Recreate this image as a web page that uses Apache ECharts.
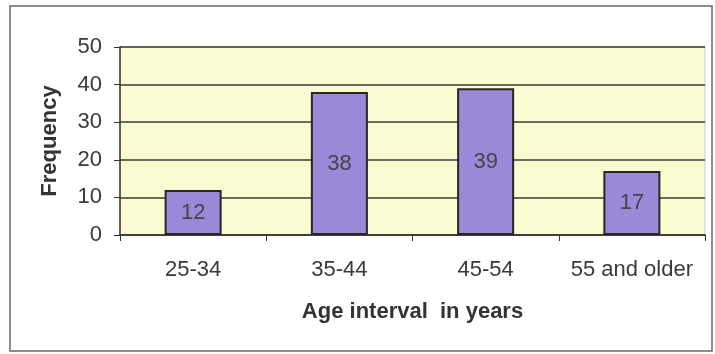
<!DOCTYPE html>
<html>
<head>
<meta charset="utf-8">
<script src="https://cdn.jsdelivr.net/npm/echarts@6/dist/echarts.min.js"></script>
<style>
  html, body { margin: 0; padding: 0; background: #ffffff; }
  #chart { width: 715px; height: 354px; }
</style>
</head>
<body>
<div id="chart"></div>
<script>
// Age groups and how many respondents fall in each
var ageGroups = ['25-34', '35-44', '45-54', '55 and older'];
var frequencies = [12, 38, 39, 17];
var yTicks = [0, 10, 20, 30, 40, 50];

var chart = echarts.init(document.getElementById('chart'));

chart.setOption({
  backgroundColor: '#ffffff',
  animation: false,
  textStyle: { fontFamily: 'Liberation Sans, Arial, sans-serif' },
  graphic: [{
    type: 'rect',
    shape: { x: 10, y: 6, width: 702, height: 345 },
    style: { fill: 'none', stroke: '#6a6a6a', lineWidth: 1.5 },
    silent: true,
    z: -1
  }],
  grid: {
    left: 120, right: 10, top: 47, bottom: 119,
    show: true,
    backgroundColor: '#fbfbd2',
    borderColor: '#c8c8c8',
    borderWidth: 1
  },
  xAxis: {
    type: 'category',
    data: ageGroups,
    name: 'Age interval  in years',
    nameLocation: 'middle',
    nameGap: 66,
    nameTextStyle: { fontSize: 22, fontWeight: 'bold', color: '#333' },
    axisLine: { lineStyle: { color: '#333', width: 1.5 } },
    axisTick: { show: true, length: 6, inside: false, lineStyle: { color: '#333' } },
    axisLabel: { interval: 0, hideOverlap: false, fontSize: 22, color: '#3a3a3a', margin: 24 }
  },
  yAxis: {
    type: 'value',
    min: yTicks[0],
    max: yTicks[yTicks.length - 1],
    interval: 10,
    name: 'Frequency',
    nameLocation: 'middle',
    nameGap: 59,
    nameTextStyle: { fontSize: 22, fontWeight: 'bold', color: '#333' },
    axisLine: { show: true, lineStyle: { color: '#333', width: 1.5 } },
    axisTick: { show: true, length: 6, lineStyle: { color: '#333' } },
    axisLabel: { fontSize: 22, color: '#3a3a3a', margin: 18 },
    splitLine: { show: true, lineStyle: { color: '#3a3a30', width: 1.5 } }
  },
  series: [{
    type: 'bar',
    data: frequencies,
    barWidth: '39%',
    itemStyle: { color: '#9c88d8', borderColor: '#2a2620', borderWidth: 2 },
    label: {
      show: true,
      position: 'inside',
      fontSize: 22,
      color: '#444'
    }
  }]
});
</script>
</body>
</html>
